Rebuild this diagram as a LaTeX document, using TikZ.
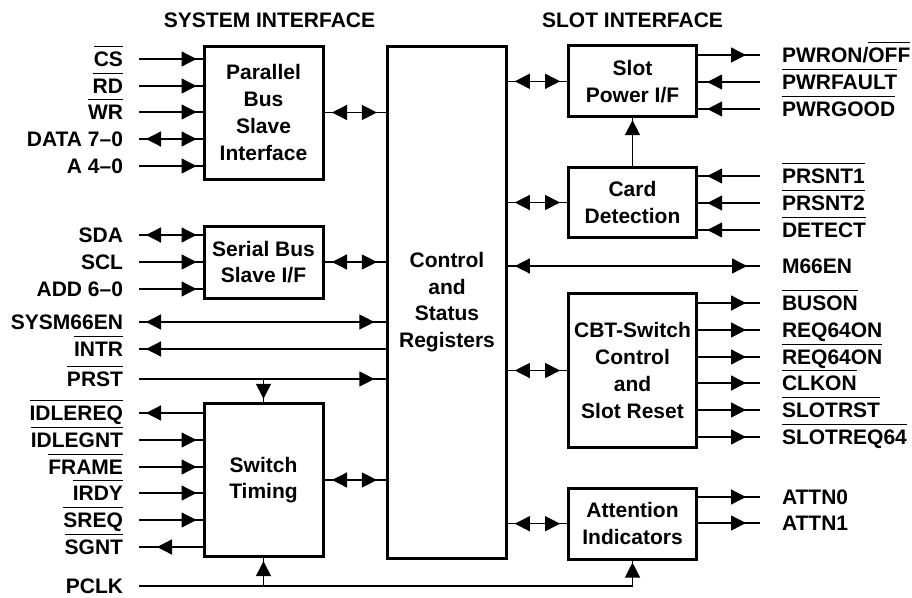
\documentclass[tikz,border=0pt]{standalone}
\usepackage{fontspec}
\setmainfont{Liberation Sans}
\usetikzlibrary{arrows.meta, positioning, decorations.markings}

\newcommand{\ovl}[1]{\vbox{\hrule height 1.7pt\kern 4.6pt\hbox{#1}}}

\tikzset{
  block/.style={draw=black, line width=3pt, inner sep=0pt, align=center},
  lbl/.style={inner sep=0pt, text height=15pt, text depth=0pt},
  lblL/.style={lbl, anchor=east, outer xsep=16pt},
  lblR/.style={lbl, anchor=west, outer xsep=22pt},
  wire/.style={line width=1.3pt},
  tipend/.style={postaction={decorate, decoration={markings, mark=at position -#1 with {\arrow{>}}}}},
  tipend/.default=6pt,
  tipstart/.style={postaction={decorate, decoration={markings, mark=at position #1 with {\arrowreversed{>}}}}},
  tipstart/.default=7pt,
}

\begin{document}
\begin{tikzpicture}[x=1pt, y=-1pt, >={Triangle[length=15pt,width=15pt]},
  font=\fontsize{21}{26.7}\selectfont\bfseries]
\useasboundingbox (0,0) rectangle (912,597);

% blocks
\node[block, minimum width=119.2pt, minimum height=512pt] (csr) at (447,302) {Control\\and\\Status\\Registers};
\node[block, minimum width=119pt, minimum height=133pt] (pbus) at (263.5,112.5) {Parallel\\Bus\\Slave\\Interface};
\node[block, minimum width=119pt, minimum height=72pt] (sbus) at (263.5,262) {Serial Bus\\Slave I/F};
\node[block, minimum width=119pt, minimum height=153.4pt] (stim) at (263.5,480) {Switch\\Timing};
\node[block, minimum width=128.4pt, minimum height=70.7pt] (spwr) at (632.5,81.3) {Slot\\Power I/F};
\node[block, minimum width=128.4pt, minimum height=70.4pt] (card) at (632.5,202.5) {Card\\Detection};
\node[block, minimum width=128.4pt, minimum height=154.4pt] (cbt) at (632.5,370.5) {CBT-Switch\\Control\\and\\Slot Reset};
\node[block, minimum width=128.4pt, minimum height=70.7pt] (attn) at (632.5,523.7) {Attention\\Indicators};

\node[lbl, above=17pt of pbus, xshift=6pt] (sys_title) {SYSTEM INTERFACE};
\node[lbl, above=17pt of spwr] (slot_title) {SLOT INTERFACE};

% system side signals
\node[lblL] (cs) at (139,59) {\ovl{CS}};
\node[lblL] (rd) at (139,86) {\ovl{RD}};
\node[lblL] (wr) at (139,112) {\ovl{WR}};
\node[lblL] (data) at (139,139) {DATA 7\textendash 0};
\node[lblL] (addr) at (139,166) {A 4\textendash 0};
\node[lblL] (sda) at (139,235) {SDA};
\node[lblL] (scl) at (139,262) {SCL};
\node[lblL] (add) at (139,289) {ADD 6\textendash 0};
\node[lblL] (sysm) at (139,322) {SYSM66EN};
\node[lblL] (intr) at (139,349) {\ovl{INTR}};
\node[lblL] (prst) at (139,379) {\ovl{PRST}};
\node[lblL] (idlereq) at (139,413) {\ovl{IDLEREQ}};
\node[lblL] (idlegnt) at (139,440) {\ovl{IDLEGNT}};
\node[lblL] (frame) at (139,467) {\ovl{FRAME}};
\node[lblL] (irdy) at (139,493) {\ovl{IRDY}};
\node[lblL] (sreq) at (139,520) {\ovl{SREQ}};
\node[lblL] (sgnt) at (139,547) {\ovl{SGNT}};
\node[lblL] (pclk) at (139,586) {PCLK};

% slot side signals
\node[lblR] (pwron) at (760,55) {PWRON/\ovl{OFF}};
\node[lblR] (pwrfault) at (760,82) {\ovl{PWRFAULT}};
\node[lblR] (pwrgood) at (760,109) {\ovl{PWRGOOD}};
\node[lblR] (prsnt1) at (760,176) {\ovl{PRSNT1}};
\node[lblR] (prsnt2) at (760,203) {\ovl{PRSNT2}};
\node[lblR] (detect) at (760,230) {\ovl{DETECT}};
\node[lblR] (m66) at (760,266) {M66EN};
\node[lblR] (buson) at (760,303) {\ovl{BUSON}};
\node[lblR] (reqon) at (760,330) {REQ64ON};
\node[lblR] (reqonb) at (760,357) {\ovl{REQ64ON}};
\node[lblR] (clkon) at (760,383) {\ovl{CLKON}};
\node[lblR] (slotrst) at (760,410) {\ovl{SLOTRST}};
\node[lblR] (slotreq) at (760,437) {\ovl{SLOTREQ64}};
\node[lblR] (attn0) at (760,497) {ATTN0};
\node[lblR] (attn1) at (760,523) {ATTN1};

% system side wires
\draw[wire, tipend] (cs.east) -- (cs.east -| pbus.west);
\draw[wire, tipend] (rd.east) -- (rd.east -| pbus.west);
\draw[wire, tipend] (wr.east) -- (wr.east -| pbus.west);
\draw[wire, tipstart, tipend] (data.east) -- (data.east -| pbus.west);
\draw[wire, tipend] (addr.east) -- (addr.east -| pbus.west);
\draw[wire, tipstart, tipend] (sda.east) -- (sda.east -| sbus.west);
\draw[wire, tipend] (scl.east) -- (scl.east -| sbus.west);
\draw[wire, tipend] (add.east) -- (add.east -| sbus.west);
\draw[wire, tipstart, tipend=11.5pt] (sysm.east) -- (sysm.east -| csr.west);
\draw[wire, tipstart] (intr.east) -- (intr.east -| csr.west);
\draw[wire, tipend=11.5pt] (prst.east) -- (prst.east -| csr.west);
\draw[wire, tipend=3pt] (prst.east -| stim.north) -- (stim.north);
\draw[wire, tipstart] (idlereq.east) -- (idlereq.east -| stim.west);
\draw[wire, tipend] (idlegnt.east) -- (idlegnt.east -| stim.west);
\draw[wire, tipend] (frame.east) -- (frame.east -| stim.west);
\draw[wire, tipend] (irdy.east) -- (irdy.east -| stim.west);
\draw[wire, tipend] (sreq.east) -- (sreq.east -| stim.west);
\draw[wire, tipstart=18pt] (sgnt.east) -- (sgnt.east -| stim.west);
\draw[wire, tipend=2pt] (pclk.east) -- (pclk.east -| attn.south) -- (attn.south);
\draw[wire, tipend=3pt] (pclk.east -| stim.south) -- (stim.south);

% buses to the registers
\draw[wire, tipstart=7.5pt, tipend=9pt] (pbus.east) -- (pbus.east -| csr.west);
\draw[wire, tipstart=7.5pt, tipend=9pt] (sbus.east) -- (sbus.east -| csr.west);
\draw[wire, tipstart=7.5pt, tipend=9pt] (stim.east) -- (stim.east -| csr.west);
\draw[wire, tipstart=6.7pt, tipend=6.7pt] (csr.east |- spwr.west) -- (spwr.west);
\draw[wire, tipstart=6.7pt, tipend=6.7pt] (csr.east |- card.west) -- (card.west);
\draw[wire, tipstart=6.7pt, tipend=6.7pt] (csr.east |- cbt.west) -- (cbt.west);
\draw[wire, tipstart=6.7pt, tipend=6.7pt] (csr.east |- attn.west) -- (attn.west);
\draw[wire, tipend=2pt] (card.north) -- (spwr.south);

% slot side wires
\draw[wire, tipend=14pt] (spwr.east |- pwron.west) -- (pwron.west);
\draw[wire, tipstart=9pt] (spwr.east |- pwrfault.west) -- (pwrfault.west);
\draw[wire, tipstart=9pt] (spwr.east |- pwrgood.west) -- (pwrgood.west);
\draw[wire, tipstart=9pt] (card.east |- prsnt1.west) -- (prsnt1.west);
\draw[wire, tipstart=9pt] (card.east |- prsnt2.west) -- (prsnt2.west);
\draw[wire, tipstart=9pt] (card.east |- detect.west) -- (detect.west);
\draw[wire, tipstart=6.7pt, tipend=13pt] (csr.east |- m66.west) -- (m66.west);
\draw[wire, tipend=14pt] (cbt.east |- buson.west) -- (buson.west);
\draw[wire, tipend=14pt] (cbt.east |- reqon.west) -- (reqon.west);
\draw[wire, tipend=14pt] (cbt.east |- reqonb.west) -- (reqonb.west);
\draw[wire, tipend=14pt] (cbt.east |- clkon.west) -- (clkon.west);
\draw[wire, tipend=14pt] (cbt.east |- slotrst.west) -- (slotrst.west);
\draw[wire, tipend=14pt] (cbt.east |- slotreq.west) -- (slotreq.west);
\draw[wire, tipend=14pt] (attn.east |- attn0.west) -- (attn0.west);
\draw[wire, tipend=14pt] (attn.east |- attn1.west) -- (attn1.west);
\end{tikzpicture}
\end{document}
